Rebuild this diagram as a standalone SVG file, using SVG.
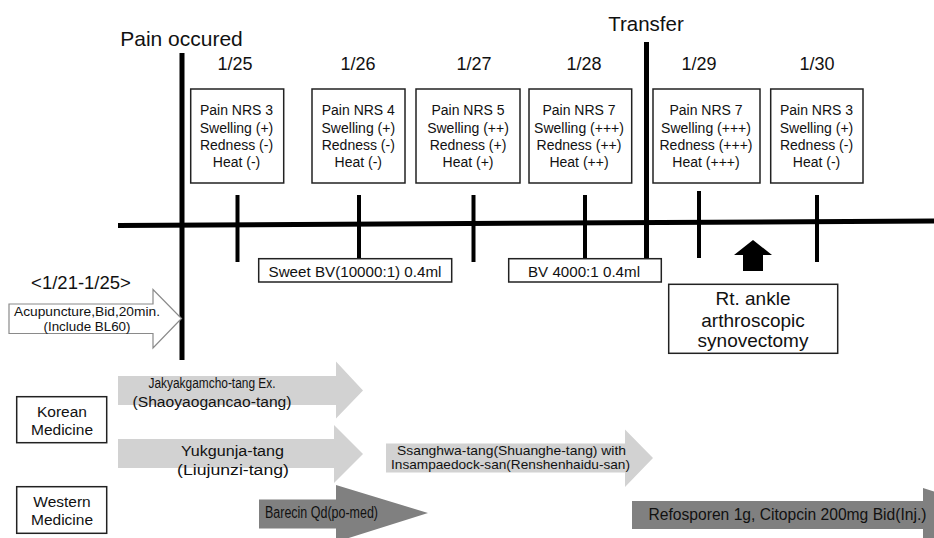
<svg xmlns="http://www.w3.org/2000/svg" width="934" height="538" viewBox="0 0 934 538">
<style>
text{font-family:"Liberation Sans",Arial,sans-serif;fill:#111;text-anchor:middle}
.box{fill:#fff;stroke:#222;stroke-width:1.5}
.bt{font-size:14px}
.date{font-size:18px}
.axis{stroke:#000;stroke-width:5;fill:none}
.tick{stroke:#000;stroke-width:4;fill:none}
.lg{fill:#d2d2d2}
.dg{fill:#808080}
.ar{font-size:14px}
</style>
<rect width="934" height="538" fill="#fff"/>

<g id="timeline">
<line class="axis" x1="118" y1="225.5" x2="934" y2="221"/>
<line class="axis" x1="182" y1="53" x2="182" y2="360"/>
<line class="axis" x1="646.5" y1="42" x2="646.5" y2="258"/>
<line class="tick" x1="237.5" y1="195" x2="237.5" y2="262"/>
<line class="tick" x1="359" y1="195" x2="359" y2="261"/>
<line class="tick" x1="473.5" y1="195" x2="473.5" y2="262"/>
<line class="tick" x1="585" y1="195" x2="585" y2="262"/>
<line class="tick" x1="699" y1="191" x2="699" y2="258"/>
<line class="tick" x1="817" y1="195" x2="817" y2="262"/>
</g>

<g id="pain-occured"><text x="181.5" y="46" style="font-size:21px">Pain occured</text></g>
<g id="transfer"><text x="646" y="31" style="font-size:20.5px">Transfer</text></g>

<g id="d0125">
<text class="date" x="235" y="70">1/25</text>
<rect class="box" x="190.7" y="89" width="93" height="94"/>
<text class="bt" x="236.5" y="115">Pain NRS 3</text>
<text class="bt" x="236.5" y="132.5">Swelling (+)</text>
<text class="bt" x="236.5" y="150">Redness (-)</text>
<text class="bt" x="236.5" y="167">Heat (-)</text>
</g>
<g id="d0126">
<text class="date" x="358" y="70">1/26</text>
<rect class="box" x="312" y="89" width="93" height="94"/>
<text class="bt" x="358.3" y="115">Pain NRS 4</text>
<text class="bt" x="358.3" y="132.5">Swelling (+)</text>
<text class="bt" x="358.3" y="150">Redness (-)</text>
<text class="bt" x="358.3" y="167">Heat (-)</text>
</g>
<g id="d0127">
<text class="date" x="474" y="70">1/27</text>
<rect class="box" x="416" y="89" width="104" height="94"/>
<text class="bt" x="468" y="115">Pain NRS 5</text>
<text class="bt" x="468" y="132.5">Swelling (++)</text>
<text class="bt" x="468" y="150">Redness (+)</text>
<text class="bt" x="468" y="167">Heat (+)</text>
</g>
<g id="d0128">
<text class="date" x="584" y="70">1/28</text>
<rect class="box" x="529" y="89" width="102.7" height="94"/>
<text class="bt" x="579" y="115">Pain NRS 7</text>
<text class="bt" x="579" y="132.5">Swelling (+++)</text>
<text class="bt" x="579" y="150">Redness (++)</text>
<text class="bt" x="579" y="167">Heat (++)</text>
</g>
<g id="d0129">
<text class="date" x="699" y="70">1/29</text>
<rect class="box" x="653" y="89" width="107" height="94"/>
<text class="bt" x="706" y="115">Pain NRS 7</text>
<text class="bt" x="706" y="132.5">Swelling (+++)</text>
<text class="bt" x="706" y="150">Redness (+++)</text>
<text class="bt" x="706" y="167">Heat (+++)</text>
</g>
<g id="d0130">
<text class="date" x="817" y="70">1/30</text>
<rect class="box" x="770.7" y="89" width="92.3" height="94"/>
<text class="bt" x="816.5" y="115">Pain NRS 3</text>
<text class="bt" x="816.5" y="132.5">Swelling (+)</text>
<text class="bt" x="816.5" y="150">Redness (-)</text>
<text class="bt" x="816.5" y="167">Heat (-)</text>
</g>

<g id="sweet-bv">
<rect class="box" x="258.7" y="258.7" width="193" height="23.3"/>
<text x="355" y="276.5" style="font-size:15px" textLength="173" lengthAdjust="spacingAndGlyphs">Sweet BV(10000:1) 0.4ml</text>
</g>
<g id="bv4000">
<rect class="box" x="508.7" y="258.7" width="152.6" height="23.3"/>
<text x="584" y="276.5" style="font-size:15px" textLength="112" lengthAdjust="spacingAndGlyphs">BV 4000:1 0.4ml</text>
</g>

<g id="surgery-arrow">
<polygon points="753,240 772,255 763,255 763,271 743,271 743,255 734,255" fill="#000"/>
</g>
<g id="surgery">
<rect class="box" x="668.7" y="284.3" width="169" height="69"/>
<text x="753" y="305" style="font-size:19px">Rt. ankle</text>
<text x="753" y="326.5" style="font-size:19px">arthroscopic</text>
<text x="753" y="347" style="font-size:19px">synovectomy</text>
</g>

<g id="acupuncture">
<text x="81" y="289" style="font-size:18.5px">&lt;1/21-1/25&gt;</text>
<polygon points="9,304 153,304 153,289.5 181.5,318.5 153,348 153,333.5 9,333.5" fill="#fff" stroke="#8a8a8a" stroke-width="1.2"/>
<text x="87" y="316" style="font-size:13px" textLength="146" lengthAdjust="spacingAndGlyphs">Acupuncture,Bid,20min.</text>
<text x="87" y="330.5" style="font-size:13px" textLength="87" lengthAdjust="spacingAndGlyphs">(Include BL60)</text>
</g>

<g id="korean-medicine">
<rect class="box" x="16.7" y="396.7" width="90" height="46"/>
<text x="62" y="417" style="font-size:15.5px">Korean</text>
<text x="62" y="435" style="font-size:15.5px">Medicine</text>
</g>
<g id="western-medicine">
<rect class="box" x="16.7" y="486.7" width="90" height="46.6"/>
<text x="62" y="507" style="font-size:15.5px">Western</text>
<text x="62" y="524.5" style="font-size:15.5px">Medicine</text>
</g>

<g id="jakyakgamcho">
<polygon class="lg" points="118,376 336,376 336,361.5 363,390.5 336,418.5 336,405 118,405"/>
<text class="ar" x="212" y="388" textLength="127" lengthAdjust="spacingAndGlyphs">Jakyakgamcho-tang Ex.</text>
<text class="ar" x="212" y="406.5" textLength="159" lengthAdjust="spacingAndGlyphs">(Shaoyaogancao-tang)</text>
</g>
<g id="yukgunja">
<polygon class="lg" points="118,439 334,439 334,425 363,454 334,483 334,468 118,468"/>
<text class="ar" x="232.5" y="456" textLength="103" lengthAdjust="spacingAndGlyphs">Yukgunja-tang</text>
<text class="ar" x="233" y="474.5" textLength="112" lengthAdjust="spacingAndGlyphs">(Liujunzi-tang)</text>
</g>
<g id="ssanghwa">
<polygon class="lg" points="386,443.5 625,443.5 625,429.5 653,458 625,487 625,472.5 386,472.5"/>
<text x="511.5" y="454.5" style="font-size:13px" textLength="229" lengthAdjust="spacingAndGlyphs">Ssanghwa-tang(Shuanghe-tang) with</text>
<text x="510.5" y="469" style="font-size:13px" textLength="239" lengthAdjust="spacingAndGlyphs">Insampaedock-san(Renshenhaidu-san)</text>
</g>
<g id="barecin">
<polygon class="dg" points="259,499.5 336,499.5 336,485 428,513 336,542 336,528.5 259,528.5"/>
<text x="321.5" y="517.5" style="font-size:16px;text-anchor:middle" textLength="113" lengthAdjust="spacingAndGlyphs">Barecin Qd(po-med)</text>
</g>
<g id="refosporen">
<polygon class="dg" points="632,501 923,501 923,488 1010,515 923,542 923,529 632,529"/>
<text x="787.5" y="520" style="font-size:16px" textLength="278" lengthAdjust="spacingAndGlyphs">Refosporen 1g, Citopcin 200mg Bid(Inj.)</text>
</g>
</svg>
